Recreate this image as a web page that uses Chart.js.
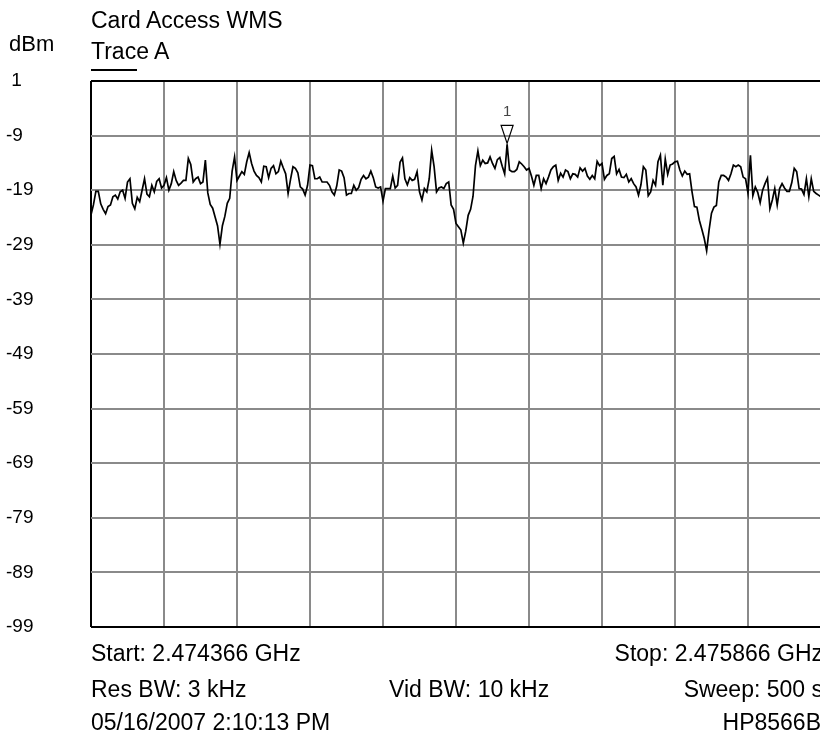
<!DOCTYPE html>
<html>
<head>
<meta charset="utf-8">
<script src="https://cdn.jsdelivr.net/npm/chart.js@4.4.1/dist/chart.umd.min.js"></script>
<style>
  html, body { margin: 0; padding: 0; background: #fff; overflow: hidden; }
  #wrap { position: relative; width: 830px; height: 733px; font-family: "Liberation Sans", Arial, sans-serif; color: #000; }
  #wrap canvas { position: absolute; left: 0; top: 0; }
  .txt { position: absolute; font-size: 23px; line-height: 23px; white-space: nowrap; }
  .under { position: absolute; left: 91px; top: 69px; width: 46px; height: 2px; background: #000; }
</style>
</head>
<body>
<div id="wrap">
  <canvas id="spektrum" width="830" height="733"></canvas>
  <div class="txt" style="left:91px; top:9px;">Card Access WMS</div>
  <div class="txt" style="left:9px; top:33px; font-size:22px; line-height:22px;">dBm</div>
  <div class="txt" style="left:91px; top:40px;">Trace A</div>
  <div class="under"></div>
  <div class="txt" style="left:91px; top:642px;">Start: 2.474366 GHz</div>
  <div class="txt" style="left:91px; top:678px;">Res BW: 3 kHz</div>
  <div class="txt" style="left:91px; top:711px;">05/16/2007 2:10:13 PM</div>
  <div class="txt" style="left:389px; top:678px;">Vid BW: 10 kHz</div>
  <div class="txt" style="right:7px; top:642px;">Stop: 2.475866 GHz</div>
  <div class="txt" style="right:7px; top:678px;">Sweep: 500 s</div>
  <div class="txt" style="right:9px; top:711px;">HP8566B</div>
</div>
<script>
// ---- Daten: Pegel in dBm, alle 5 kHz ab Start (2.474366 GHz) ----
const schrittKHz = 5;
const pegel = [
  -23.5, -21.7, -19.2, -19.2, -21.5, -22.5, -23.3, -22.0, -21.7, -20.2,
  -19.9, -20.6, -19.3, -19.0, -20.5, -17.5, -16.9, -21.4, -22.4, -20.3,
  -21.1, -19.0, -16.9, -19.7, -20.2, -18.1, -19.3, -17.4, -16.9, -18.6,
  -18.1, -16.7, -19.0, -17.8, -15.6, -17.2, -18.1, -17.7, -17.2, -17.2,
  -13.2, -14.3, -17.5, -16.9, -16.6, -17.8, -17.5, -13.5, -19.5, -21.6,
  -22.3, -23.9, -25.5, -28.9, -25.5, -23.8, -21.4, -20.5, -15.5, -12.9,
  -17.2, -16.4, -15.6, -16.1, -13.8, -12.1, -14.1, -15.5, -16.3, -16.7,
  -17.5, -14.6, -14.7, -16.7, -15.0, -14.5, -16.0, -15.6, -13.7, -14.9,
  -16.0, -19.6, -17.0, -14.7, -15.0, -15.8, -18.4, -18.8, -19.9, -18.1,
  -14.4, -14.5, -16.9, -16.9, -16.6, -17.5, -17.5, -17.5, -18.1, -19.3,
  -19.9, -18.2, -15.3, -15.5, -16.7, -19.9, -19.6, -19.6, -18.1, -19.0,
  -18.5, -17.0, -16.3, -16.9, -16.6, -15.5, -16.7, -18.4, -18.6, -18.4,
  -21.0, -18.7, -18.7, -18.7, -16.4, -18.6, -18.1, -13.9, -13.1, -16.9,
  -18.0, -16.7, -17.2, -17.0, -15.6, -19.3, -20.8, -18.7, -19.3, -16.9,
  -11.7, -14.7, -19.3, -18.6, -18.4, -18.7, -17.8, -17.5, -21.7, -22.5,
  -25.1, -25.7, -26.3, -28.7, -26.5, -23.6, -22.5, -20.1, -14.5, -11.8,
  -14.5, -13.5, -14.1, -14.0, -12.9, -14.1, -15.0, -13.4, -13.0, -14.6,
  -16.0, -10.6, -15.3, -15.6, -15.6, -15.2, -13.8, -14.2, -14.7, -15.3,
  -15.0, -16.4, -18.1, -16.3, -16.3, -18.7, -16.9, -17.8, -16.6, -15.3,
  -14.7, -14.4, -17.2, -15.9, -16.6, -15.3, -15.6, -16.9, -16.0, -16.1,
  -16.6, -14.9, -15.5, -15.0, -16.4, -17.0, -16.3, -16.9, -13.7, -14.5,
  -14.1, -17.0, -16.3, -16.0, -13.2, -12.8, -16.0, -15.2, -16.6, -16.7,
  -16.1, -17.5, -16.9, -17.8, -18.4, -19.9, -18.0, -14.7, -15.3, -20.0,
  -19.3, -17.2, -18.1, -13.8, -12.6, -18.1, -13.3, -16.1, -14.4, -14.2,
  -13.8, -13.7, -15.3, -16.4, -15.5, -16.1, -16.0, -19.3, -22.0, -22.1,
  -24.5, -26.1, -27.8, -30.1, -26.3, -23.2, -22.1, -21.8, -17.5, -16.3,
  -16.3, -16.6, -17.2, -16.0, -14.4, -14.7, -14.4, -14.7, -16.6, -16.9,
  -19.5, -12.6, -20.0, -18.4, -19.4, -21.3, -19.0, -17.8, -16.8, -22.4,
  -20.8, -18.7, -21.7, -18.7, -17.8, -18.6, -19.2, -19.2, -17.6, -15.0,
  -15.6, -18.7, -18.8, -19.8, -16.9, -20.2, -16.9, -19.2, -19.6, -19.9,
  -20.2
];

// Achsen-Raster
const yTicks = [1, -9, -19, -29, -39, -49, -59, -69, -79, -89, -99];
const xRaster = [0, 150, 300, 450, 600, 750, 900, 1050, 1200, 1350, 1500];
const markerLabel = '1';

const punkte = pegel.map(function (wert, i) {
    return { x: i * schrittKHz, y: wert };
});

// Marker 1 auf dem höchsten Punkt
const marker = {
    id: 'marker',
    afterDatasetsDraw: function (chart) {
        let maxI = 0;
        pegel.forEach(function (v, i) { if (v > pegel[maxI]) maxI = i; });
        const x = chart.scales.x.getPixelForValue(punkte[maxI].x);
        const y = chart.scales.y.getPixelForValue(punkte[maxI].y) - 1;
        const ctx = chart.ctx;
        ctx.save();
        ctx.beginPath();
        ctx.moveTo(x, y);
        ctx.lineTo(x - 6, y - 18);
        ctx.lineTo(x + 6, y - 18);
        ctx.closePath();
        ctx.lineWidth = 1.2;
        ctx.strokeStyle = '#000';
        ctx.stroke();
        ctx.fillStyle = '#444';
        ctx.font = '15px "Liberation Sans", Arial, sans-serif';
        ctx.textAlign = 'center';
        ctx.textBaseline = 'alphabetic';
        ctx.fillText(markerLabel, x, y - 27);
        ctx.restore();
    }
};

function rahmen(wert, ende1, ende2, farbe, rand) {
    return (wert === ende1 || wert === ende2) ? farbe : rand;
}

new Chart(document.querySelector('#spektrum'), {
    type: 'line',
    data: {
        datasets: [{
            label: 'Trace A',
            data: punkte,
            borderColor: '#000',
            borderWidth: 1.7,
            pointRadius: 0,
            tension: 0,
            fill: false
        }]
    },
    options: {
        responsive: false,
        animation: false,
        devicePixelRatio: 1,
        layout: { padding: { left: 6, top: 81, right: 9, bottom: 106 } },
        scales: {
            x: {
                type: 'linear',
                min: 0,
                max: 1500,
                afterBuildTicks: function (s) { s.ticks = xRaster.map(function (v) { return { value: v }; }); },
                afterFit: function (s) { s.height = 0; },
                ticks: { display: false },
                grid: {
                    drawTicks: false,
                    color: function (c) { return rahmen(c.tick.value, 0, 1500, '#000', '#8a8a8a'); },
                    lineWidth: 2
                },
                border: { display: false }
            },
            y: {
                min: -99,
                max: 1,
                afterBuildTicks: function (s) { s.ticks = yTicks.map(function (v) { return { value: v }; }); },
                afterFit: function (s) { s.width = 85; },
                ticks: {
                    crossAlign: 'far',
                    color: '#000',
                    font: { family: '"Liberation Sans", Arial, sans-serif', size: 19 },
                    callback: function (v) { return v > 0 ? ' ' + v : String(v); }
                },
                grid: {
                    drawTicks: false,
                    color: function (c) { return rahmen(c.tick.value, 1, -99, '#000', '#8a8a8a'); },
                    lineWidth: 2
                },
                border: { display: false }
            }
        },
        plugins: {
            legend: { display: false },
            tooltip: { enabled: false }
        }
    },
    plugins: [marker]
});
</script>
</body>
</html>
